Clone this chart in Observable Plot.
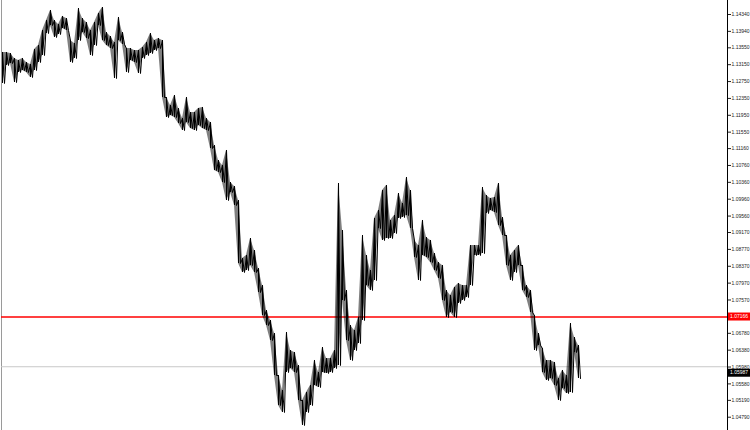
<!DOCTYPE html>
<html><head><meta charset="utf-8">
<script src="https://cdn.jsdelivr.net/npm/d3@7"></script>
<script src="https://cdn.jsdelivr.net/npm/@observablehq/plot@0.6"></script>
<style>
html,body{margin:0;padding:0;background:#fff;}
#chart{width:750px;height:430px;overflow:hidden;}
</style></head><body><div id="chart"></div>
<script>
// Bar highs / lows (price), one entry per group of bars, left to right
const highs = [1.13439,1.13439,1.13415,1.13297,1.13249,1.13297,1.13202,1.13154,1.13510,1.13605,
1.13961,1.14198,1.14435,1.14198,1.14103,1.14293,1.14245,1.13723,1.13652,1.14482,
1.14245,1.14150,1.13961,1.14150,1.14364,1.14506,1.13913,1.13818,1.13676,1.14269,
1.13913,1.13534,1.13534,1.13486,1.13486,1.13557,1.13676,1.13889,1.13723,1.13771,
1.13723,1.12372,1.12182,1.12419,1.12111,1.11874,1.12372,1.12016,1.12016,1.12111,
1.12135,1.11874,1.11779,1.11233,1.10878,1.10759,1.11115,1.10356,1.10261,1.09929,
1.08554,1.08625,1.09028,1.08743,1.08317,1.07914,1.07321,1.07084,1.06775,1.05779,
1.05424,1.06799,1.06372,1.06325,1.06016,1.05186,1.05376,1.05542,1.06135,1.05850,
1.06443,1.06182,1.06182,1.06372,1.10332,1.09218,1.07795,1.06965,1.06846,1.07155,
1.09099,1.08625,1.08269,1.09502,1.09692,1.10166,1.10285,1.09455,1.09573,1.10095,
1.09858,1.10475,1.10166,1.08981,1.08862,1.09455,1.09052,1.08981,1.08672,1.08459,
1.08388,1.07795,1.07676,1.07866,1.07961,1.07914,1.07914,1.08862,1.08862,1.08862,
1.10237,1.10048,1.09977,1.10000,1.10332,1.09526,1.09099,1.08625,1.08743,1.08862,
1.08388,1.07914,1.07795,1.07202,1.06775,1.06420,1.06135,1.06135,1.06088,1.05708,
1.05898,1.05779,1.07012,1.06680,1.06491];
const lows = [1.12704,1.13131,1.13178,1.12727,1.12965,1.13012,1.12965,1.12846,1.13012,1.13202,
1.13368,1.13889,1.14079,1.13795,1.13866,1.14008,1.13961,1.13202,1.13297,1.13723,
1.13913,1.13771,1.13368,1.13605,1.14079,1.13723,1.13605,1.13534,1.12822,1.13723,
1.13629,1.12965,1.13249,1.13202,1.12941,1.13297,1.13368,1.13415,1.13486,1.13534,
1.12372,1.11897,1.11945,1.11897,1.11755,1.11589,1.11779,1.11637,1.11589,1.11708,
1.11637,1.11589,1.11162,1.10641,1.10593,1.10356,1.09929,1.10119,1.09811,1.08435,
1.08222,1.08269,1.08388,1.08222,1.07747,1.07202,1.06965,1.06609,1.05779,1.05068,
1.04902,1.05850,1.05945,1.05850,1.05186,1.04594,1.04902,1.05068,1.05542,1.05495,
1.05850,1.05827,1.05850,1.05945,1.06016,1.07558,1.06609,1.06135,1.06372,1.06538,
1.07084,1.07914,1.07795,1.08032,1.09265,1.08981,1.09028,1.09028,1.09147,1.09502,
1.09526,1.09573,1.09265,1.08578,1.08032,1.08625,1.08578,1.08459,1.08269,1.08080,
1.07558,1.07155,1.07273,1.07155,1.07487,1.07558,1.07629,1.07914,1.08625,1.08625,
1.08672,1.09621,1.09692,1.09645,1.09336,1.09099,1.08388,1.08032,1.08222,1.08388,
1.07795,1.07629,1.07273,1.06372,1.06491,1.05850,1.05661,1.05708,1.05542,1.05186,
1.05471,1.05352,1.05376,1.06325,1.05708];
const tickValues = [1.14340,1.13940,1.13550,1.13150,1.12750,1.12350,1.11950,1.11550,1.11160,
1.10760,1.10360,1.09960,1.09560,1.09170,1.08770,1.08370,1.07970,1.07570,1.06780,1.06380,
1.05980,1.05580,1.05190,1.04790];
const hLineLevel = 1.07166;
const bidLevel = 1.05987;
const yDomain = [1.04475, 1.14672];
const xDomain = [-0.25, 181.25];

const bars = highs.map((h, i) => ({i, hi: h, lo: lows[i]}));
const zig = bars.flatMap(d => [{t: d.i, p: d.hi}, {t: d.i + 0.5, p: d.lo}]);

const chart = Plot.plot({
  width: 750, height: 430,
  marginLeft: 1, marginRight: 23, marginTop: 0, marginBottom: 0,
  style: {fontFamily: "'Liberation Sans', Arial, sans-serif", fontSize: "5px", background: "#fff", color: "#222"},
  x: {domain: xDomain, axis: null},
  y: {domain: yDomain, axis: null},
  marks: [
    Plot.frame({anchor: "left", stroke: "#9a9a9a"}),
    Plot.ruleY([bidLevel], {stroke: "#c8c8c8", strokeWidth: 1}),
    Plot.ruleY([hLineLevel], {stroke: "#ff0000", strokeWidth: 1.5}),
    Plot.areaY(bars, {x: "i", y1: "lo", y2: "hi", fill: "#000", fillOpacity: 0.5}),
    Plot.ruleX(bars, {x: "i", y1: "lo", y2: "hi", stroke: "#000", strokeWidth: 1}),
    Plot.line(zig, {x: "t", y: "p", stroke: "#000", strokeWidth: 1}),
    Plot.frame({anchor: "right", stroke: "#000"}),
    Plot.axisY({anchor: "right", ticks: tickValues, tickFormat: d => d.toFixed(5), tickSize: 3, tickPadding: 1, fontSize: 5, fill: "#222"})
  ]
});
document.getElementById("chart").appendChild(chart);

const svg = d3.select(chart);
const y = chart.scale("y");
[[hLineLevel, "#ff0000", 0], [bidLevel, "#000000", 6.5]].forEach(([v, c, off]) => {
  const py = y.apply(v) + off;
  const g = svg.append("g");
  g.append("rect").attr("x", 728).attr("y", py - 4).attr("width", 22).attr("height", 8).attr("fill", c);
  g.append("text").attr("x", 730).attr("y", py).attr("dy", "0.35em").attr("text-anchor", "start")
    .attr("fill", "#fff").attr("font-size", 5).text(v.toFixed(5));
});
</script>
</body></html>
